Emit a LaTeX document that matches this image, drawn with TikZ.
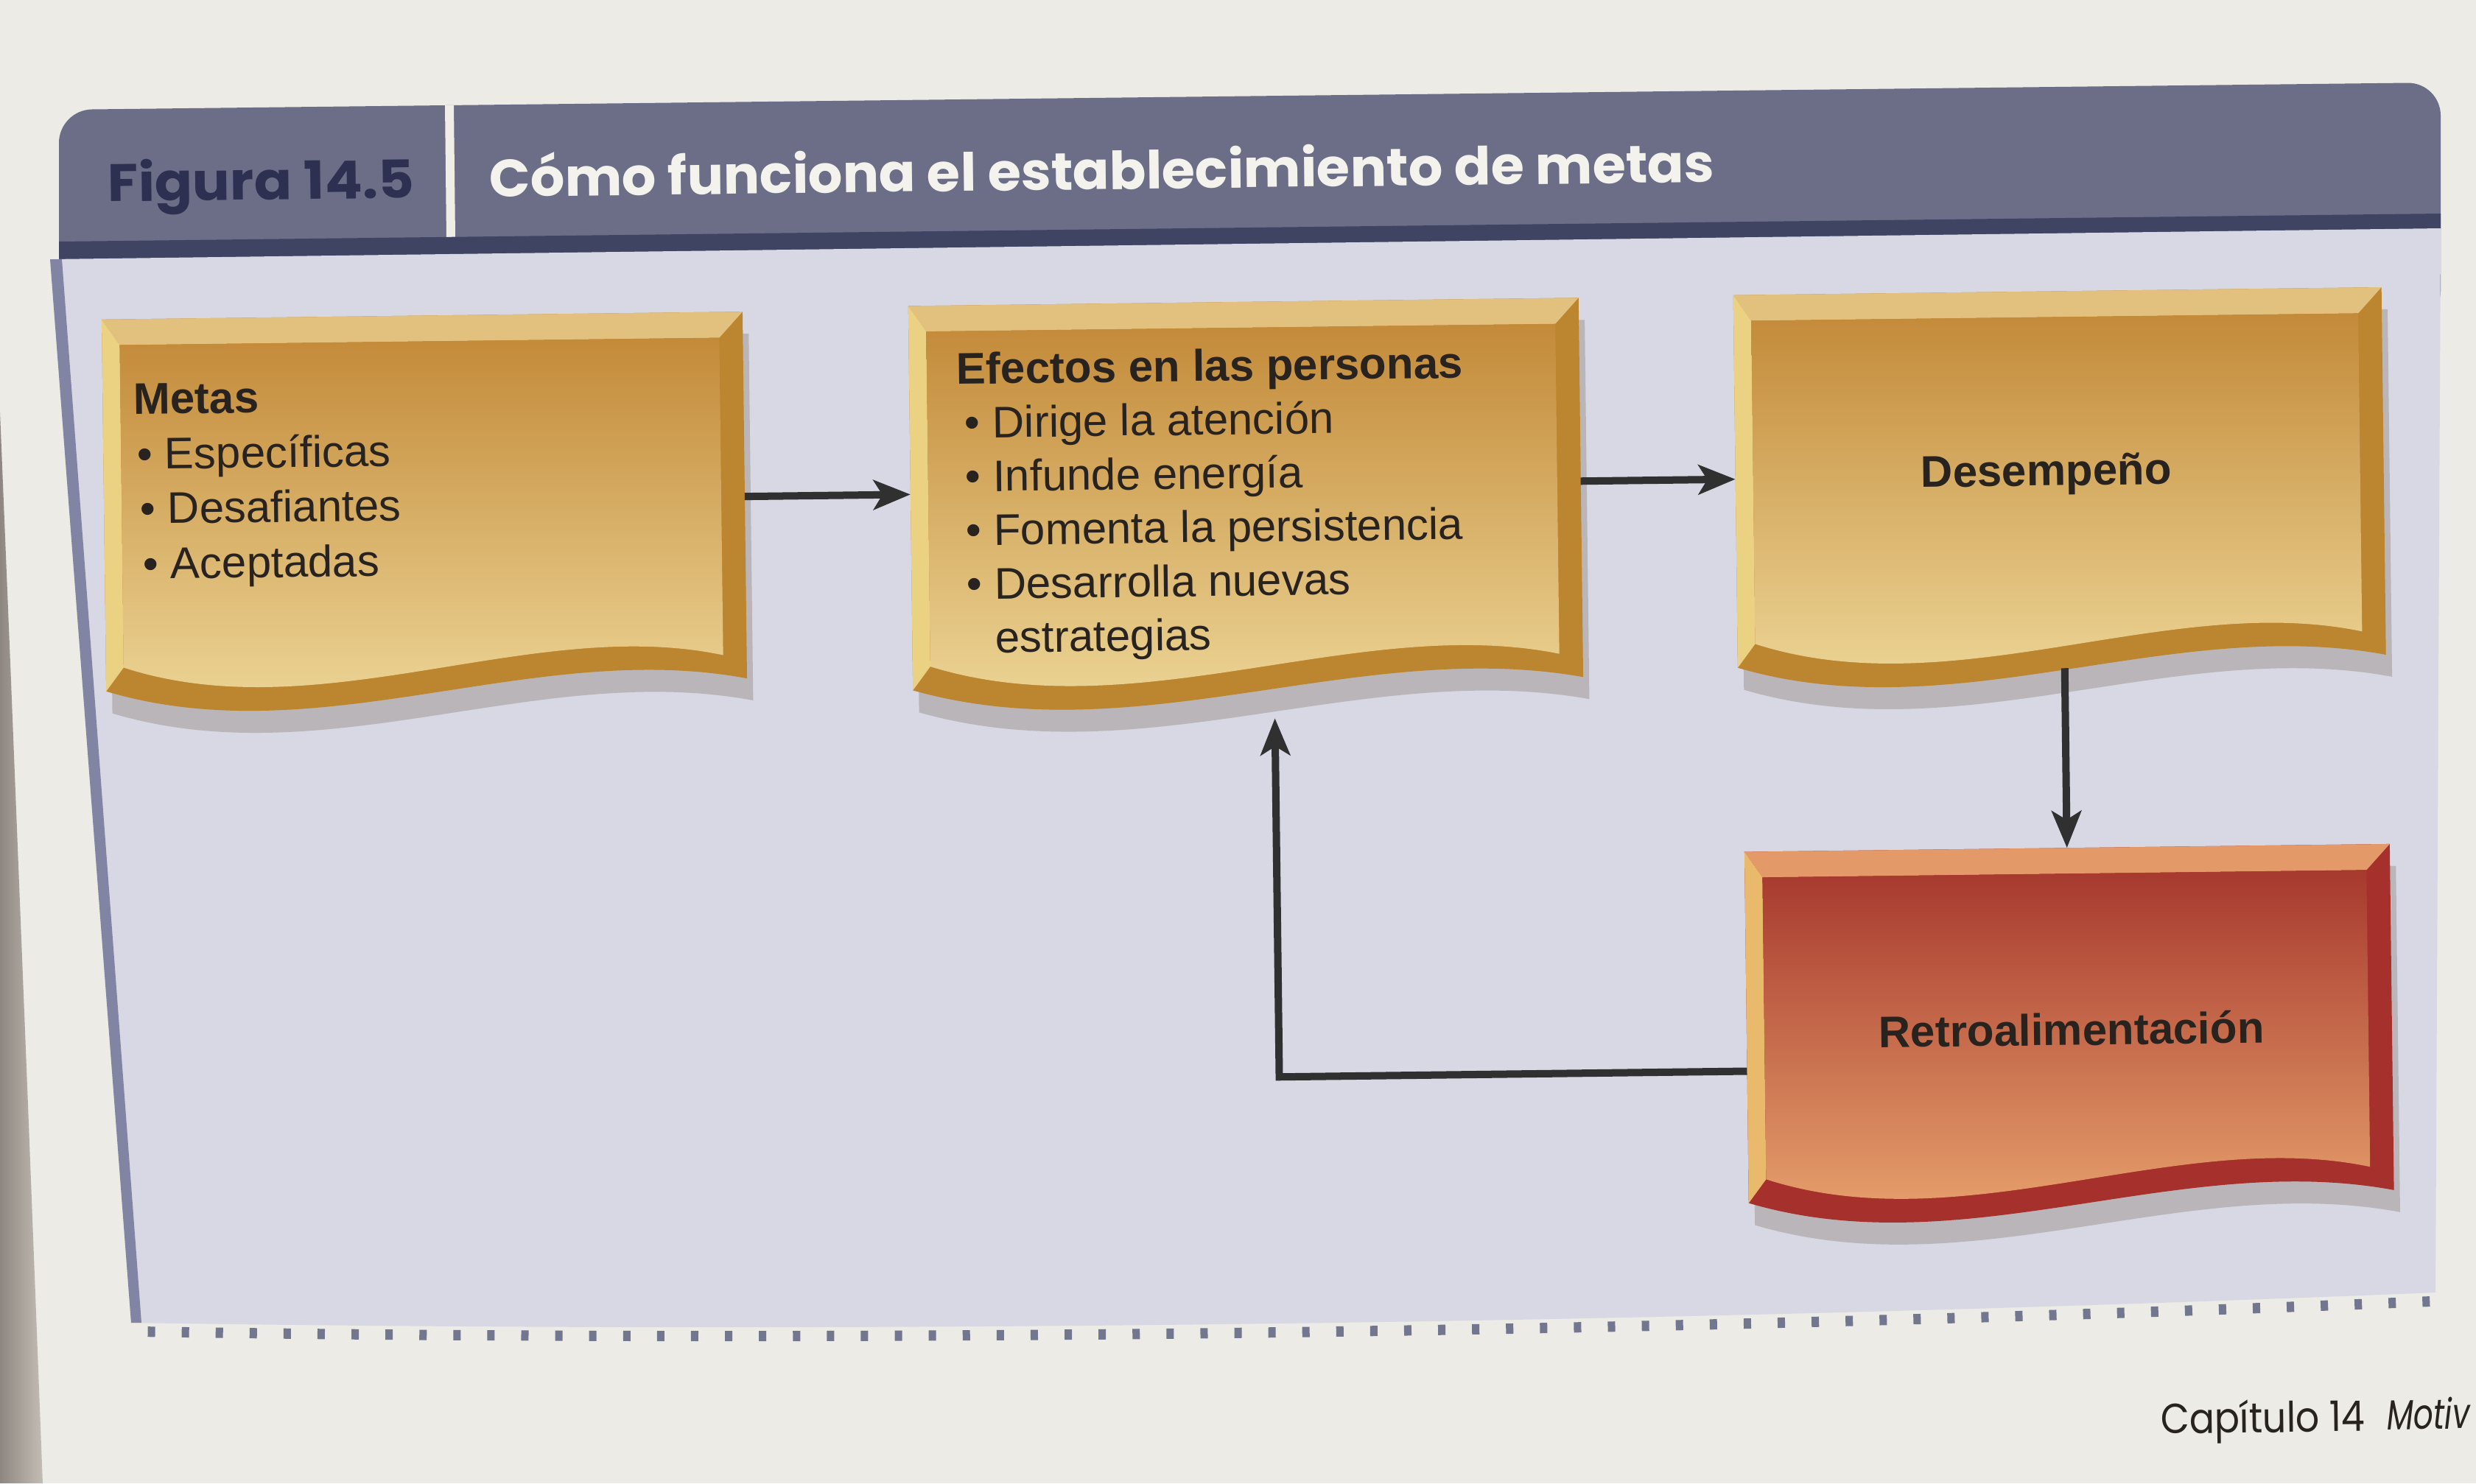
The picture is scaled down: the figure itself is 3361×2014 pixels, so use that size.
\documentclass[tikz,border=0pt]{standalone}
\usepackage{fontspec}
\usepackage{graphicx}
\setmainfont{Liberation Sans}
\newfontfamily\popfont{Poppins}
\usetikzlibrary{arrows.meta,decorations.markings}

\definecolor{pagec}{HTML}{ECEBE6}
\definecolor{darkc}{HTML}{8E8781}
\definecolor{darkc2}{HTML}{C4BDB5}
\definecolor{hdrc}{HTML}{6C6E87}
\definecolor{navyc}{HTML}{3E4462}
\definecolor{panelc}{HTML}{D7D8E3}
\definecolor{stripc}{HTML}{8184A2}
\definecolor{dotc}{HTML}{73768F}
\definecolor{divc}{HTML}{EFEDE6}
\definecolor{figc}{HTML}{2D3050}
\definecolor{titlec}{HTML}{F4F2EC}
\definecolor{txtc}{HTML}{28231E}
\definecolor{linec}{HTML}{303030}
\definecolor{shadowc}{HTML}{A79E9C}
\definecolor{gtop}{HTML}{E2C07E}
\definecolor{gleft}{HTML}{EBD182}
\definecolor{gdark}{HTML}{BC852F}
\definecolor{gfa}{HTML}{C38A39}
\definecolor{gfb}{HTML}{D9AA55}
\definecolor{gfc}{HTML}{EFDA9C}
\definecolor{rtop}{HTML}{E39A68}
\definecolor{rleft}{HTML}{E9B96C}
\definecolor{rdark}{HTML}{A6302C}
\definecolor{rfa}{HTML}{A7392E}
\definecolor{rfb}{HTML}{CD6845}
\definecolor{rfc}{HTML}{ECA971}

\newcommand{\bxfont}{\fontsize{17.07pt}{21.34pt}\selectfont}

\newcommand{\wavebox}[6]{%
  \pgfmathsetmacro{\bxL}{#2}%
  \pgfmathsetmacro{\bxT}{#3}%
  \pgfmathsetmacro{\bxR}{#4}%
  \pgfmathsetmacro{\bxB}{#3+#5}%
  \pgfmathsetmacro{\bxXa}{#2+(#4-#2)/3}%
  \pgfmathsetmacro{\bxXb}{#2+2*(#4-#2)/3}%
  \pgfmathsetmacro{\bxYa}{\bxB+90}%
  \pgfmathsetmacro{\bxYb}{\bxB-65}%
  \pgfmathsetmacro{\bxYe}{\bxB-7}%
  \pgfmathsetmacro{\bxIL}{#2+24}%
  \pgfmathsetmacro{\bxIR}{#4-32}%
  \pgfmathsetmacro{\bxIT}{#3+35}%
  \pgfmathsetmacro{\bxIB}{\bxB-32}%
  \pgfmathsetmacro{\bxIYa}{\bxYa-32}%
  \pgfmathsetmacro{\bxIYb}{\bxYb-32}%
  \pgfmathsetmacro{\bxIYe}{\bxYe-32}%
  \fill[shadowc, opacity=.6] ({\bxL+8},{\bxT+30}) -- ({\bxR+8},{\bxT+30}) -- ({\bxR+8},{\bxYe+30}) .. controls ({\bxXb+8},{\bxYb+30}) and ({\bxXa+8},{\bxYa+30}) .. ({\bxL+8},{\bxB+30}) -- cycle;
  \fill[#6dark] (\bxL,\bxT) -- (\bxR,\bxT) -- (\bxR,\bxYe) .. controls (\bxXb,\bxYb) and (\bxXa,\bxYa) .. (\bxL,\bxB) -- cycle;
  \fill[#6top] (\bxL,\bxT) -- (\bxR,\bxT) -- (\bxIR,\bxIT) -- (\bxIL,\bxIT) -- cycle;
  \fill[#6left] (\bxL,\bxT) -- (\bxIL,\bxIT) -- (\bxIL,\bxIB) -- (\bxL,\bxB) -- cycle;
  \shade[top color=#6fa, middle color=#6fb, bottom color=#6fc] (\bxIL,\bxIT) -- (\bxIR,\bxIT) -- (\bxIR,\bxIYe) .. controls (\bxXb,\bxIYb) and (\bxXa,\bxIYa) .. (\bxIL,\bxIB) -- cycle;
  \coordinate (#1) at ({(\bxL+\bxR)/2},{(\bxT+\bxB)/2});
}

\tikzset{
  bxtext/.style={anchor=base west, inner sep=0pt, text=txtc, font=\bxfont},
  arr/.style={draw=linec, line width=0.1cm, -{Stealth[length=0.5cm,width=0.4cm,inset=0.12cm]}},
}

\begin{document}
\begin{tikzpicture}[x=0.01cm, y=-0.01cm]
\useasboundingbox (0,0) rectangle (3361,2014);
\clip (0,0) rectangle (3361,2014);
% page
\fill[pagec] (0,0) rectangle (3361,2014);
\shade[left color=darkc, right color=darkc2] (0,560) -- (14,900) -- (38,1500) -- (58,2014) -- (0,2014) -- cycle;
% header
\fill[hdrc, rounded corners=0.45cm] (80,440) -- (80,149) -- (3313,112) -- (3313,440) -- cycle;
\fill[divc] (604,143) -- (616,143) -- (618,323) -- (606,323) -- cycle;
\fill[navyc] (80,328) -- (3313,290) -- (3313,311) -- (80,353) -- cycle;
% panel
\fill[panelc] (68,352) -- (3313,310) -- (3306,1755) .. controls (2300,1796) and (1200,1812) .. (178,1796) -- cycle;
\fill[stripc] (68,352) -- (84,352) -- (192,1796) -- (178,1796) -- cycle;
\path[decorate, decoration={markings, mark=between positions 0.005 and 1 step 0.46cm with {\fill[dotc] (-0.05cm,-0.07cm) rectangle (0.05cm,0.07cm);}}]
  (190,1808) .. controls (1200,1824) and (2300,1808) .. (3300,1767);

\begin{scope}[rotate around={0.7:(1680,1000)}, transform shape]
  % header texts
  \node[anchor=base west, inner sep=0pt, text=figc] (fig) at (155,255)
    {\resizebox{4.16cm}{\height}{\popfont\bfseries\fontsize{20.3pt}{24pt}\selectfont Figura 14.5}};
  \node[anchor=base west, inner sep=0pt, text=titlec] (title) at (673,255)
    {\resizebox{16.62cm}{\height}{\popfont\bfseries\fontsize{20.3pt}{24pt}\selectfont Cómo funciona el establecimiento de metas}};

  % boxes
  \wavebox{b1}{145}{415}{1015}{505}{g}
  \wavebox{b2}{1240}{410}{2150}{522}{g}
  \wavebox{b3}{2360}{409}{3240}{506}{g}
  \wavebox{b4}{2366}{1165}{3242}{477}{r}

  % box texts
  \node[bxtext, font=\bxfont\bfseries] (m0) at (186,544) {Metas};
  \node[bxtext] (m1) at (190,619) {• Específicas};
  \node[bxtext] (m2) at (193,693) {• Desafiantes};
  \node[bxtext] (m3) at (196,768) {• Aceptadas};

  \node[bxtext, font=\bxfont\bfseries] (e0) at (1304,517) {Efectos en las personas};
  \node[bxtext] (e1) at (1314,590) {• Dirige la atención};
  \node[bxtext] (e2) at (1314,663) {• Infunde energía};
  \node[bxtext] (e3) at (1314,736) {• Fomenta la persistencia};
  \node[bxtext] (e4) at (1314,809) {• Desarrolla nuevas};
  \node[bxtext] (e5) at (1352,882) {estrategias};

  \node[bxtext, anchor=base, font=\bxfont\bfseries] (d0) at (2782,673) {Desempeño};
  \node[bxtext, anchor=base, font=\bxfont\bfseries] (r0) at (2807,1433) {Retroalimentación};

  % connector endpoints
  \coordinate (b1e) at (1015,666);
  \coordinate (b2w) at (1240,666);
  \coordinate (b2e) at (2150,659);
  \coordinate (b3w) at (2360,659);
  \coordinate (b3s) at (2804,921);
  \coordinate (b4n) at (2804,1165);
  \coordinate (b4w) at (2366,1463);
  \coordinate (b2s) at (1731,976);

  \draw[arr] (b1e) -- (b2w);
  \draw[arr] (b2e) -- (b3w);
  \draw[arr] (b3s) -- (b4n);
  \draw[arr] (b4w) -| (b2s);

  % footer
  \node[anchor=base west, inner sep=0pt, text=txtc] (cap) at (2921,1962)
    {\resizebox{2.77cm}{\height}{\popfont\fontsize{16.2pt}{19pt}\selectfont Capítulo 14}};
  \node[anchor=base west, inner sep=0pt, text=txtc] (mot) at (3228,1960)
    {\popfont\itshape\fontsize{16.2pt}{19pt}\selectfont\scalebox{0.74}[1]{Motiv}};
\end{scope}
\end{tikzpicture}
\end{document}
